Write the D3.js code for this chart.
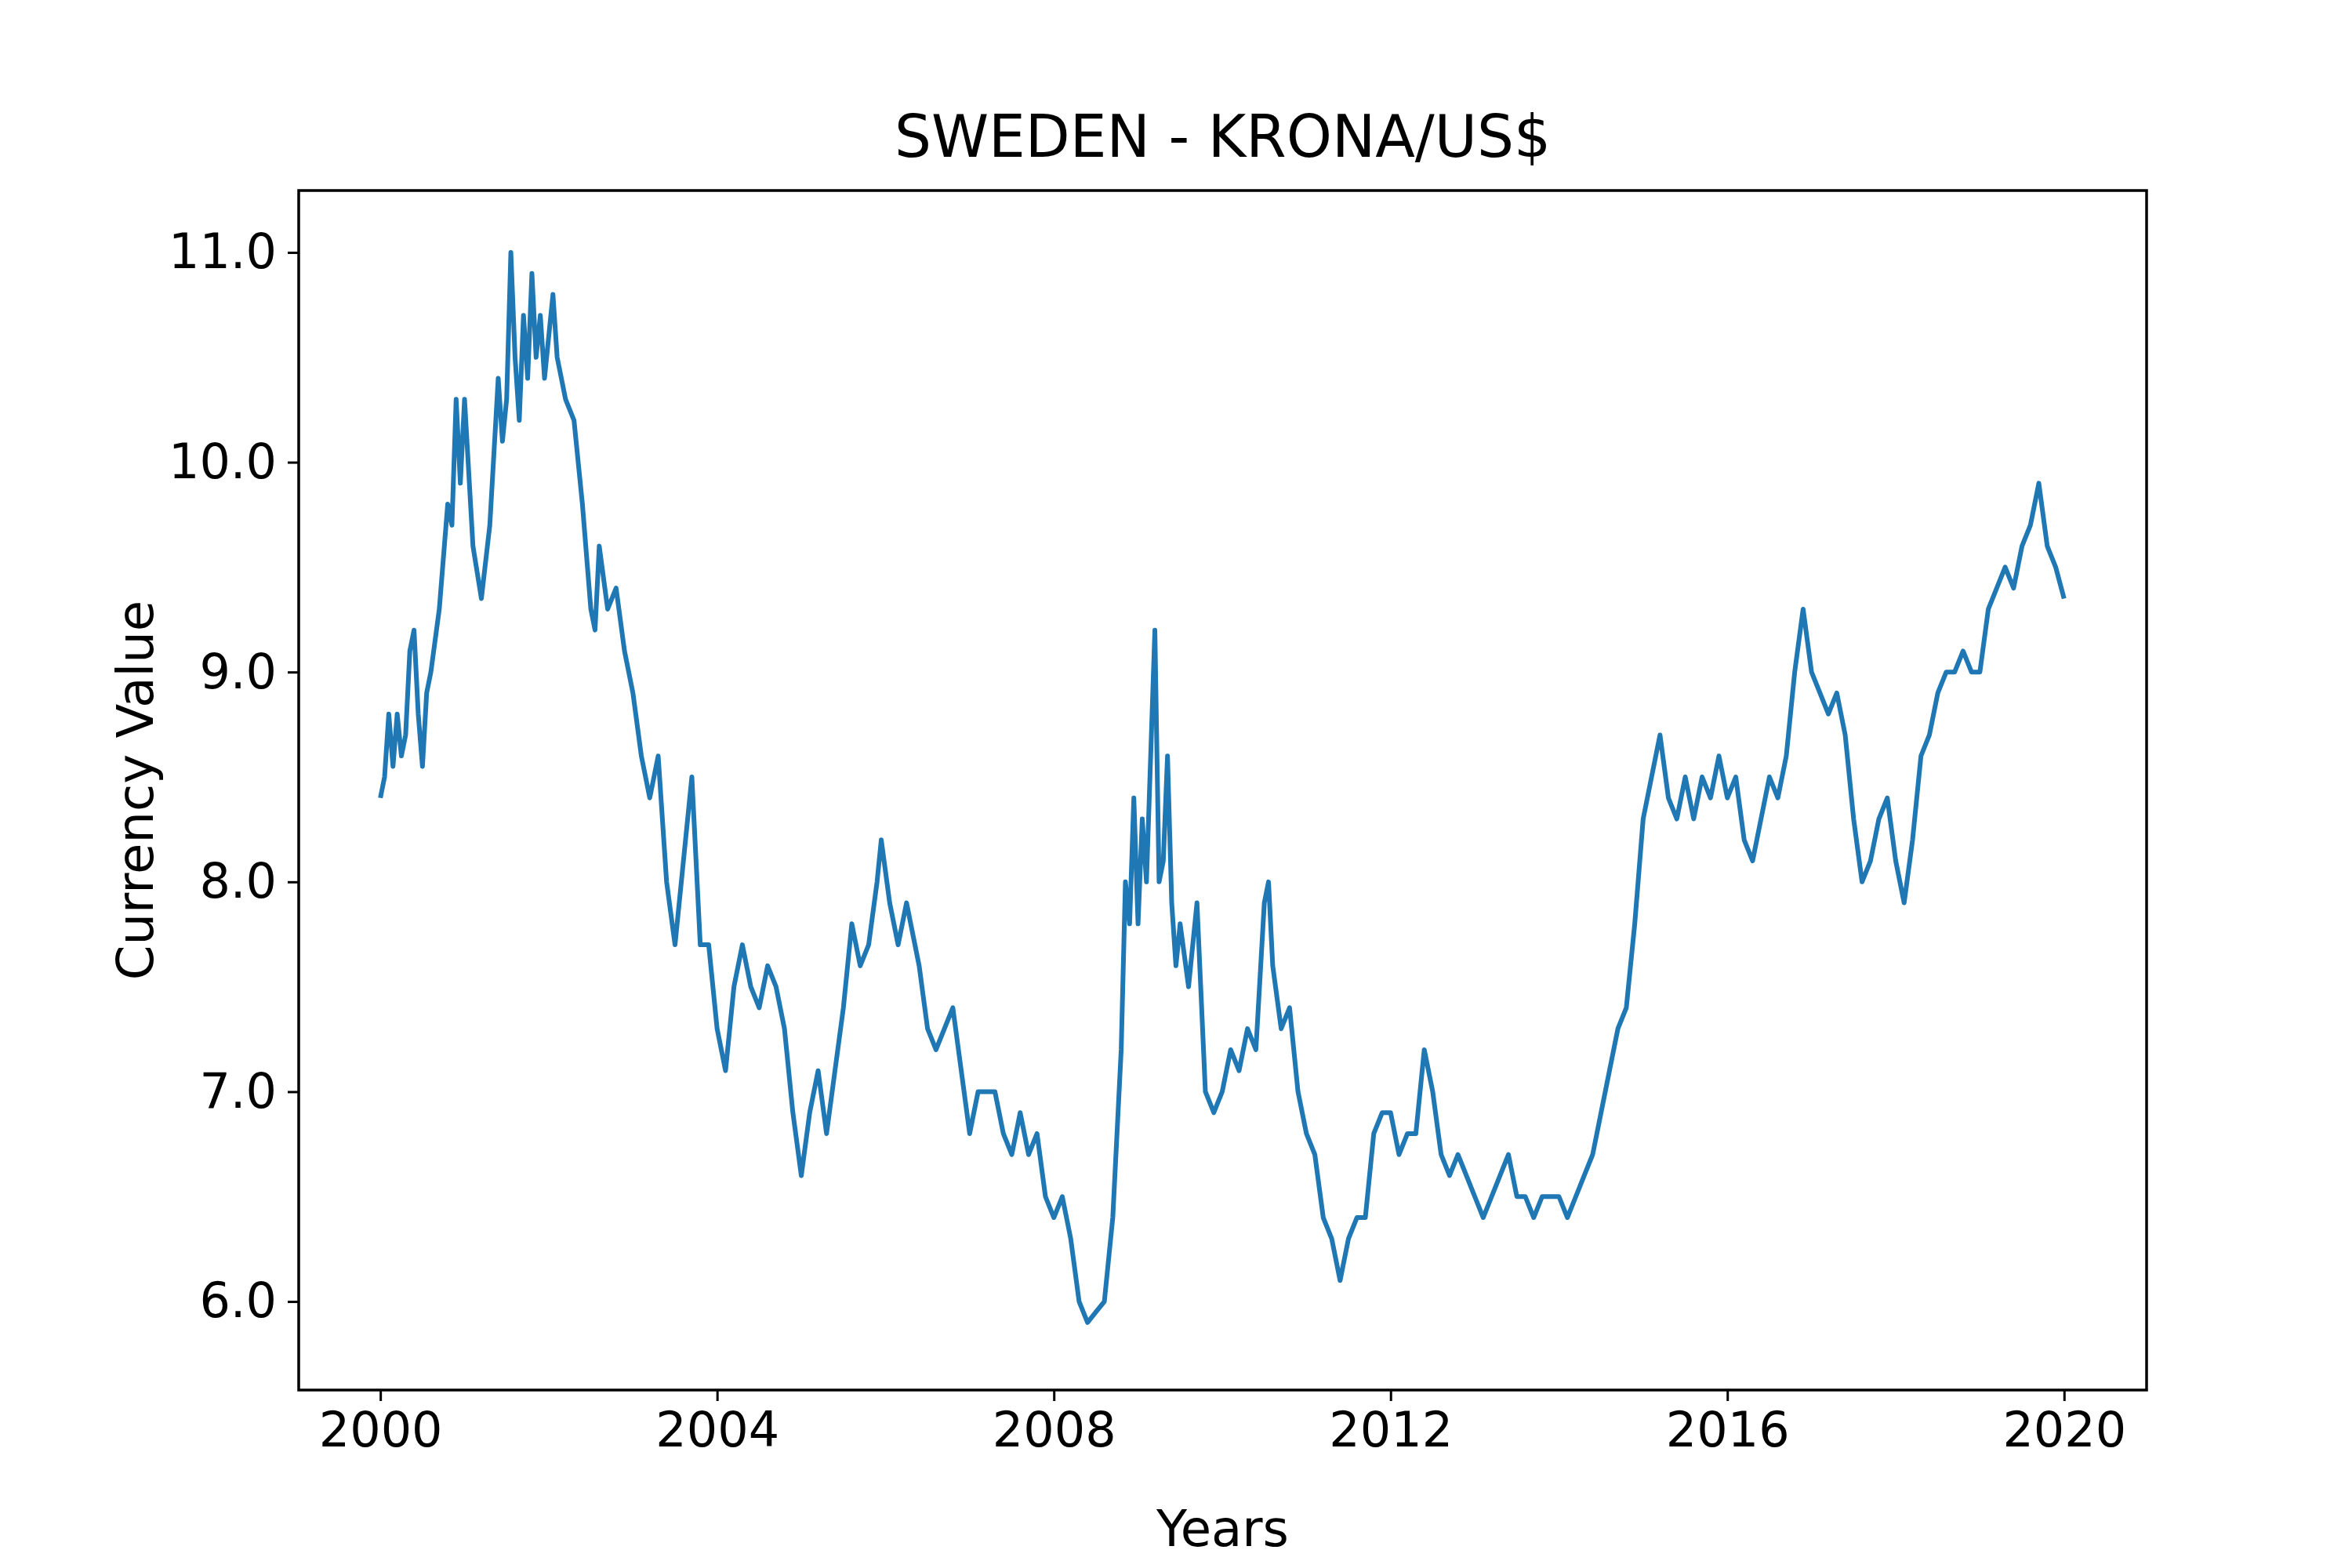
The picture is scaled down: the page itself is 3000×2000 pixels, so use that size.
<!DOCTYPE html>
<html>
<head>
<meta charset="utf-8">
<script src="https://cdn.jsdelivr.net/npm/d3@7"></script>
<style>
  body { margin: 0; background: #fff; }
  text { font-family: "DejaVu Sans", sans-serif; }
</style>
</head>
<body>
<svg width="3000" height="2000"></svg>
<script>
// decimal year / krona per US$
const years = [
  2000.0, 2000.05, 2000.1, 2000.15, 2000.2, 2000.25, 2000.3, 2000.35, 2000.4, 2000.45, 2000.5, 2000.55, 2000.6, 2000.7, 2000.8, 2000.85, 2000.9, 2000.95,
  2001.0, 2001.1, 2001.2, 2001.3, 2001.4, 2001.45, 2001.5, 2001.55, 2001.6, 2001.65, 2001.7, 2001.75, 2001.8, 2001.85, 2001.9, 2001.95,
  2002.05, 2002.1, 2002.2, 2002.3, 2002.4, 2002.5, 2002.55, 2002.6, 2002.7, 2002.8, 2002.9,
  2003.0, 2003.1, 2003.2, 2003.3, 2003.4, 2003.5, 2003.6, 2003.7, 2003.8, 2003.9,
  2004.0, 2004.1, 2004.2, 2004.3, 2004.4, 2004.5, 2004.6, 2004.7, 2004.8, 2004.9,
  2005.0, 2005.1, 2005.2, 2005.3, 2005.4, 2005.5, 2005.6, 2005.7, 2005.8, 2005.9, 2005.95,
  2006.05, 2006.15, 2006.25, 2006.4, 2006.5, 2006.6, 2006.7, 2006.8, 2006.9,
  2007.0, 2007.1, 2007.2, 2007.3, 2007.4, 2007.5, 2007.6, 2007.7, 2007.8, 2007.9,
  2008.0, 2008.1, 2008.2, 2008.3, 2008.4, 2008.5, 2008.6, 2008.7, 2008.8, 2008.85, 2008.9, 2008.95,
  2009.0, 2009.05, 2009.1, 2009.15, 2009.2, 2009.25, 2009.3, 2009.35, 2009.4, 2009.45, 2009.5, 2009.6, 2009.7, 2009.8, 2009.9,
  2010.0, 2010.1, 2010.2, 2010.3, 2010.4, 2010.5, 2010.55, 2010.6, 2010.7, 2010.8, 2010.9,
  2011.0, 2011.1, 2011.2, 2011.3, 2011.4, 2011.5, 2011.6, 2011.7, 2011.8, 2011.9,
  2012.0, 2012.1, 2012.2, 2012.3, 2012.4, 2012.5, 2012.6, 2012.7, 2012.8, 2012.9,
  2013.0, 2013.1, 2013.2, 2013.3, 2013.4, 2013.5, 2013.6, 2013.7, 2013.8, 2013.9,
  2014.0, 2014.1, 2014.2, 2014.3, 2014.4, 2014.5, 2014.6, 2014.7, 2014.8, 2014.9,
  2015.0, 2015.1, 2015.2, 2015.3, 2015.4, 2015.5, 2015.6, 2015.7, 2015.8, 2015.9,
  2016.0, 2016.1, 2016.2, 2016.3, 2016.4, 2016.5, 2016.6, 2016.7, 2016.8, 2016.9,
  2017.0, 2017.1, 2017.2, 2017.3, 2017.4, 2017.5, 2017.6, 2017.7, 2017.8, 2017.9,
  2018.0, 2018.1, 2018.2, 2018.3, 2018.4, 2018.5, 2018.6, 2018.7, 2018.8, 2018.9,
  2019.0, 2019.1, 2019.2, 2019.3, 2019.4, 2019.5, 2019.6, 2019.7, 2019.8, 2019.9, 2020.0
];
const rates = [
  8.4, 8.5, 8.8, 8.55, 8.8, 8.6, 8.7, 9.1, 9.2, 8.8, 8.55, 8.9, 9.0, 9.3, 9.8, 9.7, 10.3, 9.9,
  10.3, 9.6, 9.35, 9.7, 10.4, 10.1, 10.3, 11.0, 10.5, 10.2, 10.7, 10.4, 10.9, 10.5, 10.7, 10.4,
  10.8, 10.5, 10.3, 10.2, 9.8, 9.3, 9.2, 9.6, 9.3, 9.4, 9.1,
  8.9, 8.6, 8.4, 8.6, 8.0, 7.7, 8.1, 8.5, 7.7, 7.7,
  7.3, 7.1, 7.5, 7.7, 7.5, 7.4, 7.6, 7.5, 7.3, 6.9,
  6.6, 6.9, 7.1, 6.8, 7.1, 7.4, 7.8, 7.6, 7.7, 8.0, 8.2,
  7.9, 7.7, 7.9, 7.6, 7.3, 7.2, 7.3, 7.4, 7.1,
  6.8, 7.0, 7.0, 7.0, 6.8, 6.7, 6.9, 6.7, 6.8, 6.5,
  6.4, 6.5, 6.3, 6.0, 5.9, 5.95, 6.0, 6.4, 7.2, 8.0, 7.8, 8.4,
  7.8, 8.3, 8.0, 8.6, 9.2, 8.0, 8.1, 8.6, 7.9, 7.6, 7.8, 7.5, 7.9, 7.0, 6.9,
  7.0, 7.2, 7.1, 7.3, 7.2, 7.9, 8.0, 7.6, 7.3, 7.4, 7.0,
  6.8, 6.7, 6.4, 6.3, 6.1, 6.3, 6.4, 6.4, 6.8, 6.9,
  6.9, 6.7, 6.8, 6.8, 7.2, 7.0, 6.7, 6.6, 6.7, 6.6,
  6.5, 6.4, 6.5, 6.6, 6.7, 6.5, 6.5, 6.4, 6.5, 6.5,
  6.5, 6.4, 6.5, 6.6, 6.7, 6.9, 7.1, 7.3, 7.4, 7.8,
  8.3, 8.5, 8.7, 8.4, 8.3, 8.5, 8.3, 8.5, 8.4, 8.6,
  8.4, 8.5, 8.2, 8.1, 8.3, 8.5, 8.4, 8.6, 9.0, 9.3,
  9.0, 8.9, 8.8, 8.9, 8.7, 8.3, 8.0, 8.1, 8.3, 8.4,
  8.1, 7.9, 8.2, 8.6, 8.7, 8.9, 9.0, 9.0, 9.1, 9.0,
  9.0, 9.3, 9.4, 9.5, 9.4, 9.6, 9.7, 9.9, 9.6, 9.5, 9.35
];
const xTicks = [2000, 2004, 2008, 2012, 2016, 2020];
const yTicks = [6, 7, 8, 9, 10, 11];

const svg = d3.select('svg');
const plotLeft = 381, plotRight = 2738, plotTop = 243, plotBottom = 1773;

const x = d3.scaleLinear().domain([1999.03, 2020.98]).range([plotLeft, plotRight]);
const y = d3.scaleLinear().domain([5.578, 11.295]).range([plotBottom, plotTop]);

const data = years.map((d, i) => ({year: d, rate: rates[i]}));

svg.append('path')
    .datum(data)
    .attr('fill', 'none')
    .attr('stroke', '#1f77b4')
    .attr('stroke-width', 6)
    .attr('stroke-linejoin', 'round')
    .attr('d', d3.line().x(d => x(d.year)).y(d => y(d.rate)));

// axes
const xAxis = svg.append('g')
    .attr('transform', `translate(0,${plotBottom})`)
    .call(d3.axisBottom(x).tickValues(xTicks).tickFormat(d3.format('d')).tickSize(14).tickPadding(14));
const yAxis = svg.append('g')
    .attr('transform', `translate(${plotLeft},0)`)
    .call(d3.axisLeft(y).tickValues(yTicks).tickSize(14).tickPadding(14));

[xAxis, yAxis].forEach(g => {
  g.select('.domain').remove();
  g.selectAll('line').attr('stroke', '#000').attr('stroke-width', 3);
  g.selectAll('text').attr('font-size', 62).attr('fill', '#000')
    .attr('font-family', '"DejaVu Sans", sans-serif');
});

svg.append('rect')
    .attr('x', plotLeft).attr('y', plotTop)
    .attr('width', plotRight - plotLeft).attr('height', plotBottom - plotTop)
    .attr('fill', 'none').attr('stroke', '#000').attr('stroke-width', 3.5);

svg.append('text')
    .attr('x', (plotLeft + plotRight) / 2).attr('y', 200)
    .attr('text-anchor', 'middle').attr('font-size', 74)
    .text('SWEDEN - KRONA/US$');

svg.append('text')
    .attr('x', (plotLeft + plotRight) / 2).attr('y', 1972)
    .attr('text-anchor', 'middle').attr('font-size', 64)
    .text('Years');

svg.append('text')
    .attr('transform', `translate(195,${(plotTop + plotBottom) / 2}) rotate(-90)`)
    .attr('text-anchor', 'middle').attr('font-size', 64)
    .text('Currency Value');
</script>
</body>
</html>
